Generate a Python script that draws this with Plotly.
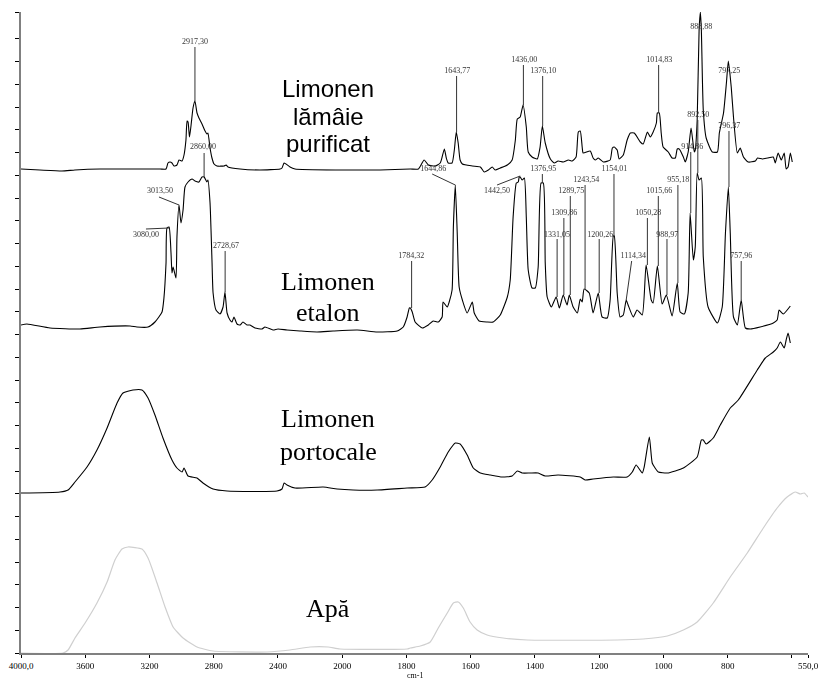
import plotly.graph_objects as go

# Values: wavenumber (cm-1) and relative signal height
lamaie_wn = [4000,3882,3745,3664,3508,3321,3134,3097,3085,3072,3060,3047,3029,3016,2997,2985,2973,2966,2960,2951,2941,2929,2917,2904,2892,2873,2854,2842,2836,2823,2811,2798,2780,2736,2723,2711,2636,2512,2387,2375,2362,2350,2325,2294,2014,
 1882,1788,1763,1745,1732,1710,1695,1689,1682,1676,1670,1658,1651,1645,1639,1633,1626,1595,1570,1558,1545,1533,1524,1508,1486,1471,1461,1455,1446,1437,1427,1421,1409,1393,1384,1377,1368,1352,1340,1328,1312,1296,1284,1272,1265,1259,1253,1250,1228,1219,1212,1203,1187,1166,1159,1153,1144,1138,1125,1113,1103,1091,1072,1063,1050,1041,1032,1022,1019,1013,1007,1001,985,973,963,957,951,938,932,923,914,904,901,895,889,885,882,876,867,848,832,826,813,804,798,789,782,770,761,751,736,714,707,692,676,658,652,643,633,624,618,612,605,599]
lamaie_h = [484,483,482,483,484,484,484,484,490,491,490,487,488,493,492,498,513,532,531,516,528,545,552,540,535,529,522,519,520,505,495,489,487,487,488,486,484,483,484,485,490,489,486,484,483,
 483,484,484,493,488,487,490,496,504,495,490,490,503,521,510,493,489,487,486,481,483,486,483,485,488,493,513,534,536,548,526,501,496,494,506,527,510,494,490,492,491,493,492,496,521,522,506,500,502,495,493,495,491,493,505,506,503,494,498,513,520,520,511,509,521,516,521,530,540,540,520,506,501,495,495,504,504,496,491,501,525,501,503,533,623,641,623,543,515,501,501,520,540,570,592,566,536,500,505,496,491,492,495,494,495,496,490,500,493,500,484,486,500,491]

etalon_wn = [4000,3963,3819,3633,3508,3321,3278,3209,3166,3122,3110,3097,3091,3078,3066,3060,3053,3035,3029,3016,3004,2991,2979,2960,2935,2917,2892,2873,2860,2842,2836,2823,2811,2804,2786,2761,2742,2730,2717,2699,2686,2674,2655,2636,2618,2593,2574,2543,2499,2481,2431,2400,2344,2263,2157,2057,
 1953,1891,1829,1810,1798,1791,1788,1782,1773,1751,1732,1717,1701,1689,1686,1673,1667,1658,1654,1648,1642,1636,1626,1611,1595,1589,1574,1549,1530,1508,1486,1477,1468,1458,1452,1449,1446,1440,1433,1427,1421,1409,1399,1390,1381,1374,1368,1362,1349,1334,1324,1312,1300,1293,1281,1268,1259,1253,1247,1231,1219,1203,1191,1175,1166,1156,1153,1144,1135,1125,1116,1110,1094,1082,1066,1054,1038,1032,1019,1004,991,973,957,948,935,923,917,907,901,895,889,882,876,861,832,817,807,798,792,782,770,758,745,730,699,658,646,640,627,605]
etalon_h = [328,329,325,324,326,327,326,326,331,341,355,390,425,426,400,380,386,375,416,448,430,443,466,471,474,472,471,476,476,471,473,450,393,360,343,339,346,361,340,333,331,336,329,328,331,328,328,325,324,326,323,324,323,322,321,322,
 323,321,322,326,336,345,345,341,331,325,328,332,331,336,351,346,351,363,426,468,420,366,353,340,351,340,332,331,331,338,356,373,436,470,471,476,476,473,475,436,383,365,365,386,470,470,390,356,346,356,345,358,348,358,346,340,354,351,364,360,340,360,336,335,353,417,417,360,336,338,353,348,336,343,338,388,353,350,387,349,358,337,370,341,339,360,440,393,406,480,473,475,396,346,330,346,420,466,420,336,328,353,325,324,326,330,333,343,339,347]

portocale_wn = [4000,3757,3707,3664,3589,3527,3464,3402,3365,3303,3247,3209,3166,3116,3060,3029,2997,2985,2960,2904,2867,2804,2717,2406,2375,2362,2344,2294,2119,2032,
 1966,1891,1798,1742,1720,1695,1670,1648,1633,1611,1592,1570,1539,1502,1471,1455,1440,1415,1390,1368,1328,1259,1244,1219,1156,1113,1097,1085,1066,1060,1044,1035,1026,1016,988,938,895,882,876,867,845,823,792,767,708,683,658,646,636,624,618,612,605]
portocale_h = [160,161,163,171,186,203,225,250,260,263,263,255,238,215,193,185,181,185,177,175,170,164,162,162,164,170,168,165,166,164,
 163,163,165,166,173,186,201,210,209,198,185,180,178,176,177,182,180,180,180,177,178,176,173,174,176,176,181,188,180,186,216,190,185,181,180,185,196,213,213,209,215,228,245,253,283,295,301,305,311,305,313,320,310]

apa_wn = [4000,3738,3707,3664,3601,3527,3464,3415,3371,3334,3247,3209,3153,3103,3053,2991,2904,2804,2468,2325,2200,2088,2014,
 1798,1788,1757,1726,1701,1673,1654,1639,1623,1602,1580,1549,1499,1424,1144,1063,988,938,895,845,792,739,689,646,615,590,574,562,550]
apa_h = [0,0,3,15,30,50,71,93,104,106,104,95,70,46,26,15,6,2,1,3,6,6,4,
 4,5,7,11,25,40,50,51,45,31,23,18,15,13,13,14,17,23,31,50,76,100,125,145,156,161,159,160,156]

peak_text = ["2917,30","2860,00","3013,50","3080,00","2728,67","1784,32","1644,86","1643,77","1436,00","1376,10","1376,95","1442,50","1331,05","1309,86","1289,75","1243,54","1200,26","1154,01","1114,34","1050,28","1015,66","1014,83","988,97","955,18","914,86","892,50","888,88","797,25","796,37","757,96"]
peak_label_wn = [2917,2867,3134,3222,2723,1785,1717,1642,1433,1374,1374,1518,1331,1309,1287,1240,1197,1153,1094,1047,1013,1013,988,954,910,892,882,795,795,758]
peak_label_h = [611,506,462,418,407,397,484,582,593,582,484,462,418,440,462,473,418,484,397,440,462,593,418,473,506,538,626,582,527,397]
lead_wn0 = [2917,2860,3141,3222,2729,1784,1720,1644,1436,1376,1377,1518,1331,1310,1290,1244,1200,1154,1099,1050,1016,1015,989,955,915,893,None,None,796,758]
lead_h0 = [606,500,456,424,402,392,479,577,588,577,479,468,414,435,457,468,414,479,392,435,457,588,414,468,501,533,None,None,522,392]
lead_wn1 = [2917,2860,3016,3078,2729,1784,1648,1644,1436,1376,1377,1446,1331,1310,1290,1244,1200,1154,1116,1050,1016,1015,989,955,915,893,None,None,796,758]
lead_h1 = [552,476,448,425,361,345,468,521,548,527,470,477,356,358,358,364,360,417,353,388,387,540,358,370,440,480,None,None,466,353]

x_tick_wn = [4000,3600,3200,2800,2400,2000,1800,1600,1400,1200,1000,800,600,550]
x_tick_text = ["4000,0","3600","3200","2800","2400","2000","1800","1600","1400","1200","1000","800","","550,0"]
y_tick_vals = [0,22.75,45.5,68.25,91,113.75,136.5,159.25,182,204.75,227.5,250.25,273,295.75,318.5,341.25,364,386.75,409.5,432.25,455,477.75,500.5,523.25,546,568.75,591.5,614.25,641]

names_sans = [("Limonen", 956, 565), ("lămâie", 956, 537), ("purificat", 956, 510)]
names_serif = [("Limonen", 956, 372), ("etalon", 956, 341), ("Limonen", 956, 235), ("portocale", 956, 202), ("Apă", 956, 45)]


def pos(wn):
    """The instrument's wavenumber axis doubles its scale below 2000 cm-1."""
    if wn is None:
        return None
    return (4000 - wn) / 2 if wn > 2000 else 1000 + (2000 - wn)


def P(values):
    return [pos(v) for v in values]


fig = go.Figure()
for wn, h, color, w in [(apa_wn, apa_h, "#cfcfcf", 1.2), (portocale_wn, portocale_h, "#000000", 1.1),
                        (etalon_wn, etalon_h, "#000000", 1.1), (lamaie_wn, lamaie_h, "#000000", 1.1)]:
    fig.add_trace(go.Scatter(x=P(wn), y=h, mode="lines",
                             line=dict(color=color, width=w, shape="spline", smoothing=0.5),
                             showlegend=False, hoverinfo="skip"))

lx, ly = [], []
for a, b, c, d in zip(lead_wn0, lead_h0, lead_wn1, lead_h1):
    if a is not None:
        lx += [pos(a), pos(c), None]
        ly += [b, d, None]
fig.add_trace(go.Scatter(x=lx, y=ly, mode="lines", line=dict(color="#333333", width=1),
                         showlegend=False, hoverinfo="skip"))

fig.add_trace(go.Scatter(x=P(peak_label_wn), y=peak_label_h, mode="text", text=peak_text,
                         textposition="middle center", opacity=0.99,
                         textfont=dict(family="Liberation Serif", size=8, color="#333333"),
                         showlegend=False, hoverinfo="skip"))

for text, x, y in names_sans:
    fig.add_annotation(x=x, y=y, text=text, showarrow=False, align="center", xref="x", yref="y",
                       font=dict(family="Liberation Sans", size=24, color="#000000"))
for text, x, y in names_serif:
    fig.add_annotation(x=x, y=y, text=text, showarrow=False, align="center", xref="x", yref="y",
                       font=dict(family="Liberation Serif", size=26, color="#000000"))

fig.add_annotation(x=1225, y=-0.0345, text="cm-1", showarrow=False, xref="x", yref="paper",
                   yanchor="middle", borderpad=0, font=dict(family="Liberation Serif", size=8, color="#000000"))

fig.update_layout(
    width=820, height=680, autosize=False, paper_bgcolor="#ffffff", plot_bgcolor="#ffffff",
    margin=dict(l=21, r=12, t=12, b=27), showlegend=False,
    xaxis=dict(range=[0, 2450], tickmode="array", tickvals=P(x_tick_wn), ticktext=x_tick_text,
               automargin=False,
               showgrid=False, zeroline=False, showline=True, linecolor="#808080", linewidth=2,
               ticks="outside", ticklen=3, tickcolor="#000000", tickwidth=1,
               tickfont=dict(family="Liberation Serif", size=9, color="#000000")),
    yaxis=dict(range=[0, 641], tickmode="array", tickvals=y_tick_vals, showticklabels=False,
               automargin=False,
               showgrid=False, zeroline=False, showline=True, linecolor="#808080", linewidth=2,
               ticks="outside", ticklen=4, tickcolor="#000000", tickwidth=1),
)
fig.write_html("out.html", config={"displayModeBar": False}, post_script="document.body.style.margin='0';")
